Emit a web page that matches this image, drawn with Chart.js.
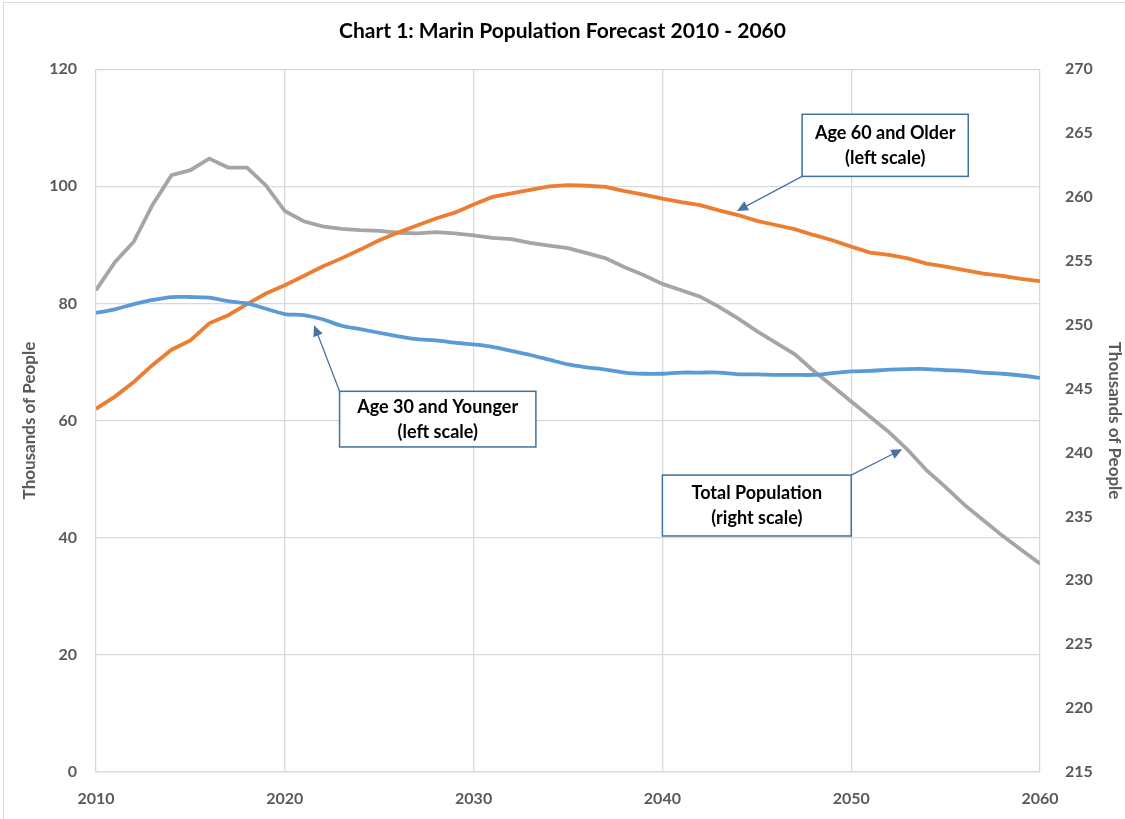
<!DOCTYPE html>
<html>
<head>
<meta charset="utf-8">
<title>Marin Population Forecast</title>
<script src="https://cdn.jsdelivr.net/npm/chart.js@4"></script>
<style>
  body { margin: 0; background: #fff; }
  #wrap { position: relative; width: 1125px; height: 819px; }
  #frame { position: absolute; left: 3px; top: 2px; right: -2px; bottom: -2px;
           border-left: 1px solid #d9d9d9; border-top: 1px solid #d9d9d9; pointer-events: none; }
</style>
</head>
<body>
<div id="wrap">
  <canvas id="popChart" width="1125" height="819"></canvas>
  <div id="frame"></div>
</div>
<script>
// years on the x axis
var years = [];
for (var yr = 2010; yr <= 2060; yr++) years.push(yr);

// Age 30 and Younger, thousands (left scale)
var under30 = [78.4, 79.0, 79.9, 80.6, 81.1, 81.1, 81.0, 80.4, 80.0, 79.1,
  78.2, 78.0, 77.3, 76.2, 75.6, 75.0, 74.4, 73.9, 73.7, 73.3,
  73.0, 72.6, 71.9, 71.2, 70.4, 69.6, 69.1, 68.7, 68.2, 68.0,
  68.0, 68.2, 68.2, 68.2, 67.9, 67.9, 67.8, 67.8, 67.8, 68.1,
  68.4, 68.5, 68.7, 68.8, 68.8, 68.6, 68.5, 68.2, 68.0, 67.7, 67.3];

// Age 60 and Older, thousands (left scale)
var over60 = [62.0, 64.1, 66.6, 69.5, 72.1, 73.7, 76.6, 78.0, 79.9, 81.7,
  83.1, 84.7, 86.3, 87.7, 89.2, 90.8, 92.1, 93.3, 94.5, 95.5,
  96.9, 98.2, 98.8, 99.4, 100.0, 100.2, 100.1, 99.9, 99.2, 98.6,
  97.9, 97.3, 96.8, 95.9, 95.1, 94.1, 93.4, 92.7, 91.7, 90.8,
  89.7, 88.7, 88.3, 87.7, 86.8, 86.3, 85.7, 85.1, 84.7, 84.2, 83.8];

// Total Population, thousands (right scale)
var total = [252.7, 254.9, 256.5, 259.4, 261.7, 262.1, 263.0, 262.3, 262.3, 260.9,
  258.9, 258.1, 257.7, 257.5, 257.4, 257.35, 257.2, 257.15, 257.25, 257.15,
  257.0, 256.8, 256.7, 256.4, 256.2, 256.0, 255.6, 255.2, 254.5, 253.9,
  253.2, 252.7, 252.2, 251.4, 250.5, 249.5, 248.6, 247.7, 246.4, 245.2,
  244.0, 242.8, 241.6, 240.2, 238.6, 237.3, 235.9, 234.7, 233.5, 232.4, 231.3];

var FONT = 'Lato, "Open Sans", sans-serif';

function pairs(vals) {
  return vals.map(function (v, i) { return { x: years[i], y: v }; });
}

// callout boxes, in data units of the x axis and the left axis
var callouts = [
  { lines: ['Age 60 and Older', '(left scale)'], box: [2047.4, 112.3, 2056.2, 101.7], from: [2047.4, 101.7], to: [2043.95, 95.8] },
  { lines: ['Age 30 and Younger', '(left scale)'], box: [2022.9, 65.0, 2033.3, 55.5], from: [2022.9, 65.0], to: [2021.55, 76.3] },
  { lines: ['Total Population', '(right scale)'], box: [2040.0, 50.7, 2050.0, 40.3], from: [2050.0, 50.7], to: [2052.7, 55.1] }
];

var calloutPlugin = {
  id: 'callouts',
  afterDatasetsDraw: function (chart) {
    var ctx = chart.ctx, xs = chart.scales.x, ys = chart.scales.y;
    ctx.save();
    callouts.forEach(function (c) {
      var x1 = xs.getPixelForValue(c.box[0]), y1 = ys.getPixelForValue(c.box[1]);
      var x2 = xs.getPixelForValue(c.box[2]), y2 = ys.getPixelForValue(c.box[3]);
      var fx = xs.getPixelForValue(c.from[0]), fy = ys.getPixelForValue(c.from[1]);
      var tx = xs.getPixelForValue(c.to[0]), ty = ys.getPixelForValue(c.to[1]);

      // arrow
      ctx.strokeStyle = '#4a72a6';
      ctx.fillStyle = '#4a72a6';
      ctx.lineWidth = 1.3;
      var ang = Math.atan2(ty - fy, tx - fx), hl = 11, hw = 5;
      ctx.beginPath();
      ctx.moveTo(fx, fy);
      ctx.lineTo(tx - Math.cos(ang) * hl * 0.8, ty - Math.sin(ang) * hl * 0.8);
      ctx.stroke();
      ctx.beginPath();
      ctx.moveTo(tx, ty);
      ctx.lineTo(tx - Math.cos(ang) * hl + Math.sin(ang) * hw, ty - Math.sin(ang) * hl - Math.cos(ang) * hw);
      ctx.lineTo(tx - Math.cos(ang) * hl - Math.sin(ang) * hw, ty - Math.sin(ang) * hl + Math.cos(ang) * hw);
      ctx.closePath();
      ctx.fill();

      // box
      ctx.fillStyle = '#fff';
      ctx.fillRect(x1, y1, x2 - x1, y2 - y1);
      ctx.strokeStyle = '#41719c';
      ctx.lineWidth = 1.5;
      ctx.strokeRect(x1, y1, x2 - x1, y2 - y1);

      // text
      ctx.fillStyle = '#000';
      ctx.font = 'bold 18px ' + FONT;
      ctx.textAlign = 'center';
      ctx.textBaseline = 'middle';
      var cx = (x1 + x2) / 2, cy = (y1 + y2) / 2;
      ctx.fillText(c.lines[0], cx, cy - 12);
      ctx.fillText(c.lines[1], cx, cy + 13);
    });
    ctx.restore();
  }
};

var ctx = document.getElementById('popChart').getContext('2d');
var popChart = new Chart(ctx, {
  type: 'line',
  data: {
    datasets: [
      { label: 'Age 30 and Younger', data: pairs(under30), yAxisID: 'y',
        borderColor: '#5b9bd5', borderWidth: 3.8, pointRadius: 0, tension: 0.3 },
      { label: 'Age 60 and Older', data: pairs(over60), yAxisID: 'y',
        borderColor: '#ed7d31', borderWidth: 3.8, pointRadius: 0, tension: 0 },
      { label: 'Total Population', data: pairs(total), yAxisID: 'y2',
        borderColor: '#a5a5a5', borderWidth: 3.8, pointRadius: 0, tension: 0 }
    ]
  },
  options: {
    responsive: false,
    animation: false,
    devicePixelRatio: 1,
    layout: { padding: 0 },
    plugins: {
      legend: { display: false },
      tooltip: { enabled: false },
      title: {
        display: true,
        text: 'Chart 1: Marin Population Forecast 2010 - 2060',
        color: '#000',
        font: { family: FONT, size: 21, weight: 'bold' },
        padding: { top: 19, bottom: 25 }
      }
    },
    scales: {
      x: {
        type: 'linear', min: 2010, max: 2060,
        ticks: { stepSize: 10, padding: 17, color: '#595959',
                 font: { family: FONT, size: 16, weight: 'bold' },
                 callback: function (v) { return String(v); } },
        grid: { color: '#d9d9d9', lineWidth: 1.3, drawTicks: false },
        border: { color: '#d9d9d9', width: 1.3 },
        afterFit: function (s) { s.height = 47; }
      },
      y: {
        position: 'left', min: 0, max: 120,
        ticks: { stepSize: 20, padding: 19, color: '#595959',
                 font: { family: FONT, size: 16, weight: 'bold' } },
        grid: { color: '#d9d9d9', lineWidth: 1.3, drawTicks: false },
        border: { display: false },
        title: { display: true, text: 'Thousands of People', color: '#595959',
                 font: { family: FONT, size: 17, weight: 'bold' }, padding: { top: 19, bottom: 0 } },
        afterFit: function (s) { s.width = 96; }
      },
      y2: {
        position: 'right', min: 215, max: 270,
        ticks: { stepSize: 5, padding: 25, color: '#595959',
                 font: { family: FONT, size: 16, weight: 'bold' } },
        grid: { drawOnChartArea: false, drawTicks: false },
        border: { display: false },
        title: { display: true, text: 'Thousands of People', color: '#595959',
                 font: { family: FONT, size: 17, weight: 'bold' }, padding: { top: 0, bottom: 0 } },
        afterFit: function (s) { s.width = 85; }
      }
    }
  },
  plugins: [calloutPlugin]
});
</script>
</body>
</html>
